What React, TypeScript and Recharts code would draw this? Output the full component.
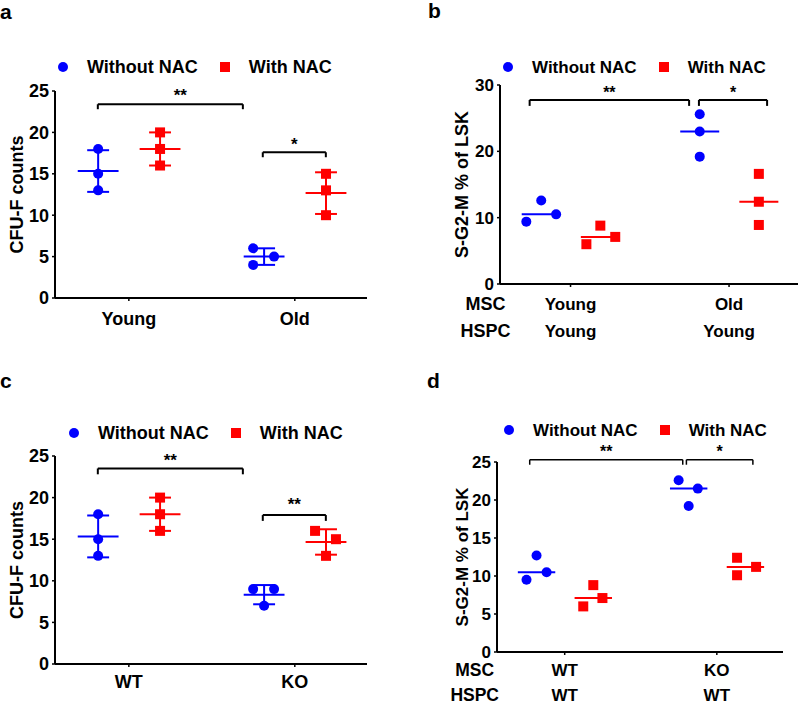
import React from 'react';
import { ScatterChart, Scatter, XAxis, YAxis, ReferenceLine, Legend } from 'recharts';

// ---------- DATA ----------
const catsA = ['Young', 'Old'];
const aWithout = [[18, 15, 13], [6, 5, 4]];
const aWith = [[20, 18, 16], [15, 13, 10]];
const aWithoutJitter = [[0, 0, 0], [-0.066, 0.06, -0.066]];
const aWithJitter = [[0, 0, 0], [0, 0, 0]];

const catsB = ['Young', 'Old'];
const catsB2 = ['Young', 'Young'];
const bWithout = [[9.4, 12.6, 10.5], [25.6, 23.0, 19.2]];
const bWith = [[6.0, 8.8, 7.1], [16.6, 12.4, 8.9]];
const bWithoutJitter = [[-0.094, 0, 0.094], [0, 0, 0]];
const bWithJitter = [[-0.088, 0, 0.094], [0, 0, 0]];

const catsC = ['WT', 'KO'];
const cWithout = [[18, 15, 13], [9, 9, 7]];
const cWith = [[20, 18, 16], [16, 15, 13]];
const cWithoutJitter = [[0, 0, 0], [-0.066, 0.06, 0]];
const cWithJitter = [[0, 0, 0], [-0.066, 0.06, 0]];

const catsD = ['WT', 'KO'];
const catsD2 = ['WT', 'WT'];
const dWithout = [[9.5, 12.7, 10.5], [22.6, 21.5, 19.2]];
const dWith = [[6.0, 8.8, 7.1], [12.4, 11.2, 10.1]];
const dWithoutJitter = [[-0.066, 0, 0.066], [-0.066, 0.06, 0]];
const dWithJitter = [[-0.066, 0, 0.06], [-0.055, 0.07, -0.055]];

const rowLabels = ['MSC', 'HSPC'];
const seriesNames = ['Without NAC', 'With NAC'];
const yTicksA = [0, 5, 10, 15, 20, 25];
const yTicksB = [0, 10, 20, 30];
const yTicksD = [0, 5, 10, 15, 20, 25];

// ---------- STYLE ----------
const FONT = '"Liberation Sans", Arial, Helvetica, sans-serif';
const BLUE = '#0000FF';
const RED = '#FF0000';
const GROUP_OFFSET = [-0.185, 0.188];
const MEAN_HALF = 0.123;
const CAP_HALF = 0.066;
const X_DOMAIN: [number, number] = [-0.445, 1.435];

type Bracket = { x1: number; x2: number; y: number; drop: number; text: string; dx?: number; offset: number };

const mean = (v: number[]) => v.reduce((s, a) => s + a, 0) / v.length;
const sd = (v: number[]) => {
  const m = mean(v);
  return Math.sqrt(v.reduce((s, a) => s + (a - m) * (a - m), 0) / (v.length - 1));
};
const median = (v: number[]) => {
  const s = [...v].sort((a, b) => a - b);
  return s[Math.floor(s.length / 2)];
};

function toPoints(values: number[][], jitter: number[][], g: number) {
  const pts: { x: number; y: number }[] = [];
  values.forEach((grp, ci) => {
    grp.forEach((y, k) => pts.push({ x: ci + GROUP_OFFSET[g] + jitter[ci][k], y }));
  });
  return pts;
}

type PanelProps = {
  left: number;
  top: number;
  marginTop: number;
  marginRight: number;
  yAxisWidth: number;
  xAxisHeight: number;
  cats: string[];
  cats2?: string[];
  without: number[][];
  withV: number[][];
  withoutJ: number[][];
  withJ: number[][];
  stat: 'meanSD' | 'median';
  yDomain: [number, number];
  yTicks: number[];
  yLabel: string;
  yLabelX: number;
  brackets: Bracket[];
  bracketWidth: number;
  starSize: number;
  fontSize: number;
  tickFontSize: number;
  legendLeft: number;
  legendTop: number;
  legendFont: number;
  row1: number;
  row2?: number;
  rowLabelDx?: number;
  rowLabelFont?: number;
  letter: string;
  letterLeft: number;
  letterTop: number;
};

function Panel(p: PanelProps) {
  const groups = [p.without, p.withV];
  const colors = [BLUE, RED];
  const lines: React.ReactNode[] = [];
  groups.forEach((vals, g) => {
    vals.forEach((grp, ci) => {
      const cx = ci + GROUP_OFFSET[g];
      const c = p.stat === 'meanSD' ? mean(grp) : median(grp);
      lines.push(
        <ReferenceLine
          key={`m${g}${ci}`}
          segment={[{ x: cx - MEAN_HALF, y: c }, { x: cx + MEAN_HALF, y: c }]}
          stroke={colors[g]}
          strokeWidth={2}
          ifOverflow="visible"
        />
      );
      if (p.stat === 'meanSD') {
        const s = sd(grp);
        lines.push(
          <ReferenceLine key={`v${g}${ci}`} segment={[{ x: cx, y: c - s }, { x: cx, y: c + s }]} stroke={colors[g]} strokeWidth={2} ifOverflow="visible" />,
          <ReferenceLine key={`t${g}${ci}`} segment={[{ x: cx - CAP_HALF, y: c + s }, { x: cx + CAP_HALF, y: c + s }]} stroke={colors[g]} strokeWidth={2} ifOverflow="visible" />,
          <ReferenceLine key={`b${g}${ci}`} segment={[{ x: cx - CAP_HALF, y: c - s }, { x: cx + CAP_HALF, y: c - s }]} stroke={colors[g]} strokeWidth={2} ifOverflow="visible" />
        );
      }
    });
  });

  p.brackets.forEach((b, i) => {
    lines.push(
      <ReferenceLine
        key={`bh${i}`}
        segment={[{ x: b.x1, y: b.y }, { x: b.x2, y: b.y }]}
        stroke="#000"
        strokeWidth={p.bracketWidth}
        ifOverflow="visible"
        label={{ value: b.text, position: 'top', offset: b.offset, dx: b.dx || 0, fill: '#000', fontSize: p.starSize, fontWeight: 700, fontFamily: FONT }}
      />,
      <ReferenceLine key={`bl${i}`} segment={[{ x: b.x1, y: b.y - b.drop }, { x: b.x1, y: b.y }]} stroke="#000" strokeWidth={p.bracketWidth} ifOverflow="visible" />,
      <ReferenceLine key={`br${i}`} segment={[{ x: b.x2, y: b.y - b.drop }, { x: b.x2, y: b.y }]} stroke="#000" strokeWidth={p.bracketWidth} ifOverflow="visible" />
    );
  });

  const XTick = (tp: any) => {
    const { x, y, payload } = tp;
    const i = Math.round(payload.value);
    const axisY = y - 3;
    const common = { textAnchor: 'middle' as const, fontSize: p.tickFontSize, fontWeight: 700, fontFamily: FONT, fill: '#000' };
    return (
      <g>
        <text x={x} y={axisY + p.row1} {...common}>{p.cats[i]}</text>
        {p.cats2 && p.row2 !== undefined && <text x={x} y={axisY + p.row2} {...common}>{p.cats2[i]}</text>}
        {p.cats2 && i === 0 && p.row2 !== undefined && (
          <>
            <text x={x + (p.rowLabelDx || 0)} y={axisY + p.row1} {...common} fontSize={p.rowLabelFont}>{rowLabels[0]}</text>
            <text x={x + (p.rowLabelDx || 0)} y={axisY + p.row2} {...common} fontSize={p.rowLabelFont}>{rowLabels[1]}</text>
          </>
        )}
      </g>
    );
  };

  const legendContent = (lp: any) => {
    const payload = [...(lp.payload || [])].sort(
      (a: any, b: any) => seriesNames.indexOf(a.value) - seriesNames.indexOf(b.value)
    );
    return (
      <div style={{ display: 'flex', alignItems: 'center', height: 20, fontFamily: FONT, fontWeight: 700, fontSize: p.legendFont, color: '#000', lineHeight: 1, whiteSpace: 'nowrap' }}>
        {payload.map((e: any, i: number) => (
          <div key={i} style={{ display: 'flex', alignItems: 'center', marginRight: i === 0 ? 22 : 0 }}>
            <svg width={10} height={10} style={{ marginRight: 19, display: 'block' }}>
              {e.type === 'circle' ? <circle cx={5} cy={5} r={5} fill={e.color} /> : <rect x={0} y={0} width={10} height={10} fill={e.color} />}
            </svg>
            <span>{e.value}</span>
          </div>
        ))}
      </div>
    );
  };

  const yLabelContent = (lp: any) => {
    const vb = lp.viewBox || { x: 0, y: 0, width: 0, height: 0 };
    const cy = vb.y + vb.height / 2;
    return (
      <text
        transform={`translate(${vb.x + p.yLabelX}, ${cy}) rotate(-90)`}
        textAnchor="middle"
        dominantBaseline="central"
        fontSize={p.fontSize}
        fontWeight={700}
        fontFamily={FONT}
        fill="#000"
      >
        {p.yLabel}
      </text>
    );
  };

  return (
    <div style={{ position: 'absolute', left: p.left, top: p.top, width: 400, height: 351 }}>
      <div style={{ position: 'absolute', left: p.letterLeft, top: p.letterTop, fontFamily: FONT, fontWeight: 700, fontSize: 21, lineHeight: 1, color: '#000', zIndex: 2 }}>
        {p.letter}
      </div>
      <ScatterChart width={400} height={351} margin={{ top: p.marginTop, right: p.marginRight, bottom: 0, left: 0 }}>
        <XAxis
          type="number"
          dataKey="x"
          domain={X_DOMAIN}
          ticks={[0, 1]}
          allowDataOverflow
          height={p.xAxisHeight}
          axisLine={{ stroke: '#000', strokeWidth: 2 }}
          tickLine={{ stroke: '#000', strokeWidth: 1.5 }}
          tickSize={3}
          tickMargin={0}
          tick={XTick}
          interval={0}
        />
        <YAxis
          type="number"
          dataKey="y"
          domain={p.yDomain}
          ticks={p.yTicks}
          width={p.yAxisWidth}
          allowDataOverflow
          axisLine={{ stroke: '#000', strokeWidth: 2 }}
          tickLine={{ stroke: '#000', strokeWidth: 1.5 }}
          tickSize={3}
          tickMargin={3}
          tick={{ fill: '#000', fontSize: p.tickFontSize, fontWeight: 700, fontFamily: FONT }}
          label={{ content: yLabelContent }}
        />
        <Legend
          layout="horizontal"
          verticalAlign="middle"
          align="center"
          content={legendContent}
          wrapperStyle={{ left: p.legendLeft, top: p.legendTop, width: 360, height: 20 }}
        />
        {lines}
        <Scatter
          name={seriesNames[0]}
          data={toPoints(p.without, p.withoutJ, 0)}
          fill={BLUE}
          legendType="circle"
          isAnimationActive={false}
          shape={(sp: any) => <circle cx={sp.cx} cy={sp.cy} r={5} fill={BLUE} />}
        />
        <Scatter
          name={seriesNames[1]}
          data={toPoints(p.withV, p.withJ, 1)}
          fill={RED}
          legendType="square"
          isAnimationActive={false}
          shape={(sp: any) => <rect x={sp.cx - 5} y={sp.cy - 5} width={10} height={10} fill={RED} />}
        />
      </ScatterChart>
    </div>
  );
}

export default function App() {
  return (
    <div style={{ position: 'absolute', left: 0, top: 0, width: 800, height: 702, background: '#fff', overflow: 'hidden' }}>
      <Panel
        left={0} top={0} marginTop={91} marginRight={33} yAxisWidth={55} xAxisHeight={53}
        cats={catsA} without={aWithout} withV={aWith} withoutJ={aWithoutJitter} withJ={aWithJitter}
        stat="meanSD" yDomain={[0, 25]} yTicks={yTicksA} yLabel="CFU-F counts" yLabelX={17}
        brackets={[
          { x1: -0.187, x2: 0.687, y: 23.4, drop: 0.6, text: '**', dx: 10, offset: 3.5 },
          { x1: 0.807, x2: 1.187, y: 17.6, drop: 0.6, text: '*', offset: 2.5 },
        ]}
        bracketWidth={2} starSize={17} fontSize={18} tickFontSize={18}
        legendLeft={58} legendTop={57} legendFont={18}
        row1={27}
        letter="a" letterLeft={0} letterTop={1}
      />
      <Panel
        left={400} top={0} marginTop={85} marginRight={2} yAxisWidth={100} xAxisHeight={67}
        cats={catsB} cats2={catsB2} without={bWithout} withV={bWith} withoutJ={bWithoutJitter} withJ={bWithJitter}
        stat="median" yDomain={[0, 30]} yTicks={yTicksB} yLabel="S-G2-M % of LSK" yLabelX={62}
        brackets={[
          { x1: -0.258, x2: 0.748, y: 27.75, drop: 0.9, text: '**', offset: 2 },
          { x1: 0.81, x2: 1.24, y: 27.75, drop: 0.9, text: '*', offset: 2 },
        ]}
        bracketWidth={2} starSize={16} fontSize={18} tickFontSize={17}
        legendLeft={103} legendTop={57} legendFont={17}
        row1={26} row2={53} rowLabelDx={-85} rowLabelFont={18}
        letter="b" letterLeft={28} letterTop={0}
      />
      <Panel
        left={0} top={351} marginTop={105} marginRight={33} yAxisWidth={55} xAxisHeight={38}
        cats={catsC} without={cWithout} withV={cWith} withoutJ={cWithoutJitter} withJ={cWithJitter}
        stat="meanSD" yDomain={[0, 25]} yTicks={yTicksA} yLabel="CFU-F counts" yLabelX={17}
        brackets={[
          { x1: -0.187, x2: 0.687, y: 23.5, drop: 0.7, text: '**', offset: 2 },
          { x1: 0.807, x2: 1.187, y: 17.9, drop: 0.7, text: '**', offset: 5 },
        ]}
        bracketWidth={2} starSize={17} fontSize={18} tickFontSize={18}
        legendLeft={69} legendTop={72} legendFont={18}
        row1={24}
        letter="c" letterLeft={0} letterTop={19}
      />
      <Panel
        left={400} top={351} marginTop={111} marginRight={17} yAxisWidth={97} xAxisHeight={50}
        cats={catsD} cats2={catsD2} without={dWithout} withV={dWith} withoutJ={dWithoutJitter} withJ={dWithJitter}
        stat="median" yDomain={[0, 25]} yTicks={yTicksD} yLabel="S-G2-M % of LSK" yLabelX={62}
        brackets={[
          { x1: -0.23, x2: 0.776, y: 25.3, drop: 0.66, text: '**', offset: 3 },
          { x1: 0.8, x2: 1.237, y: 25.3, drop: 0.66, text: '*', offset: 3 },
        ]}
        bracketWidth={1.5} starSize={16} fontSize={17} tickFontSize={17}
        legendLeft={104} legendTop={69} legendFont={17}
        row1={24} row2={48.5} rowLabelDx={-90} rowLabelFont={17.5}
        letter="d" letterLeft={27} letterTop={19}
      />
    </div>
  );
}
